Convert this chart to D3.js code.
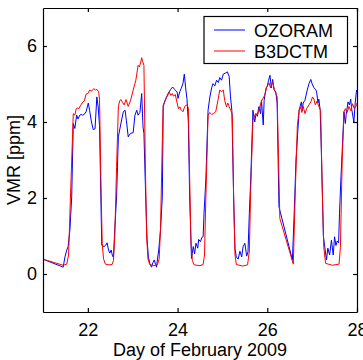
<!DOCTYPE html>
<html>
<head>
<meta charset="utf-8">
<script src="https://cdn.jsdelivr.net/npm/d3@7"></script>
<style>
  body { margin: 0; background: #fff; }
  svg text { font-family: "Liberation Sans", Arial, sans-serif; fill: #000; }
</style>
</head>
<body>
<div id="chart"></div>
<script>
// day of February 2009, VMR in ppm
const ozoram = [
  [21.00, 0.39], [21.45, 0.18], [21.49, 0.45], [21.53, 0.63], [21.56, 0.72], [21.60, 1.16], [21.64, 2.03],
  [21.675, 3.96], [21.71, 3.83], [21.75, 4.18], [21.78, 4.08], [21.82, 4.18], [21.85, 4.2], [21.88, 4.18],
  [21.92, 4.2], [21.96, 4.27], [22.01, 4.5], [22.04, 4.3], [22.08, 4.0], [22.12, 3.8], [22.16, 3.82],
  [22.20, 4.66], [22.23, 4.4], [22.26, 3.9], [22.29, 2.0], [22.31, 0.76], [22.36, 0.72], [22.40, 0.76],
  [22.43, 0.82], [22.46, 0.63], [22.49, 0.55], [22.52, 0.63], [22.55, 0.47], [22.57, 0.44], [22.60, 1.16],
  [22.64, 2.03], [22.68, 3.61], [22.73, 3.92], [22.79, 4.27], [22.83, 4.31], [22.86, 4.03], [22.90, 3.61],
  [22.95, 3.7], [23.01, 3.72], [23.05, 4.18], [23.09, 4.31], [23.12, 4.18], [23.16, 4.25], [23.20, 4.75],
  [23.23, 3.87], [23.25, 3.7], [23.29, 2.0], [23.32, 0.9], [23.35, 0.45], [23.38, 0.28], [23.42, 0.18],
  [23.45, 0.3], [23.48, 0.37], [23.51, 0.25], [23.53, 0.18], [23.55, 0.37], [23.58, 0.63], [23.62, 1.16],
  [23.66, 2.03], [23.68, 4.4], [23.72, 4.57], [23.79, 4.75], [23.84, 4.85], [23.89, 4.92], [23.94, 4.85],
  [23.99, 4.79], [24.01, 4.62], [24.05, 4.8], [24.08, 4.88], [24.12, 5.01], [24.15, 5.26], [24.18, 4.9],
  [24.21, 4.6], [24.24, 4.0], [24.27, 2.0], [24.31, 0.41], [24.35, 0.72], [24.38, 0.53], [24.41, 0.81],
  [24.45, 0.68], [24.47, 0.91], [24.51, 0.85], [24.54, 0.96], [24.57, 0.98], [24.59, 1.6], [24.63, 2.47],
  [24.68, 4.31], [24.72, 4.66], [24.76, 4.9], [24.79, 5.01], [24.83, 4.95], [24.87, 5.1], [24.91, 5.04],
  [24.94, 5.17], [24.98, 5.1], [25.02, 5.26], [25.07, 5.29], [25.11, 5.32], [25.15, 5.2], [25.18, 4.66],
  [25.21, 4.31], [25.25, 2.0], [25.28, 0.67], [25.31, 0.45], [25.35, 0.39], [25.39, 0.6], [25.43, 0.45],
  [25.46, 0.72], [25.50, 0.81], [25.54, 0.47], [25.57, 0.58], [25.60, 1.6], [25.63, 2.47], [25.68, 4.31],
  [25.72, 4.0], [25.75, 4.22], [25.78, 4.15], [25.81, 4.4], [25.85, 4.22], [25.87, 4.57], [25.91, 3.92],
  [25.93, 4.57], [25.97, 4.88], [26.00, 4.95], [26.03, 5.1], [26.06, 5.23], [26.09, 4.9], [26.12, 5.12],
  [26.15, 4.85], [26.19, 4.79], [26.22, 4.5], [26.26, 1.77], [26.56, 0.37], [26.60, 1.6], [26.64, 3.0],
  [26.71, 4.31], [26.73, 4.4], [26.76, 4.53], [26.78, 4.3], [26.80, 4.5], [26.84, 4.57], [26.89, 4.84],
  [26.93, 5.01], [26.97, 5.12], [27.00, 5.0], [27.04, 4.9], [27.08, 4.85], [27.10, 4.79], [27.13, 4.5],
  [27.15, 4.6], [27.18, 4.3], [27.21, 3.0], [27.25, 1.0], [27.32, 0.37], [27.35, 0.68], [27.39, 0.5],
  [27.43, 0.89], [27.47, 0.5], [27.50, 0.98], [27.53, 0.75], [27.56, 0.87], [27.59, 0.82], [27.61, 1.6],
  [27.64, 2.47], [27.71, 4.27], [27.74, 3.96], [27.76, 4.2], [27.80, 4.53], [27.83, 4.45], [27.86, 4.6],
  [27.88, 4.35], [27.93, 4.0], [27.96, 4.5], [27.99, 4.84], [28.00, 4.8]
];

const b3dctm = [
  [21.00, 0.39], [21.45, 0.23], [21.53, 0.26], [21.57, 0.5], [21.62, 2.3], [21.675, 4.22], [21.71, 4.18],
  [21.74, 4.35], [21.77, 4.37], [21.80, 4.35], [21.84, 4.44], [21.89, 4.53], [21.92, 4.55], [21.96, 4.73],
  [22.00, 4.75], [22.04, 4.84], [22.08, 4.81], [22.13, 4.88], [22.17, 4.84], [22.20, 4.86], [22.24, 4.8],
  [22.26, 4.6], [22.29, 2.5], [22.32, 0.8], [22.35, 0.4], [22.39, 0.26], [22.47, 0.24], [22.54, 0.25],
  [22.57, 0.35], [22.60, 1.0], [22.64, 2.8], [22.68, 4.4], [22.71, 4.56], [22.74, 4.59], [22.77, 4.52],
  [22.81, 4.45], [22.85, 4.59], [22.90, 4.41], [22.95, 4.56], [23.01, 4.84], [23.07, 5.1], [23.12, 5.49],
  [23.15, 5.45], [23.18, 5.58], [23.20, 5.69], [23.22, 5.6], [23.25, 5.49], [23.28, 3.0], [23.31, 1.0],
  [23.34, 0.4], [23.38, 0.25], [23.47, 0.22], [23.55, 0.24], [23.59, 0.4], [23.62, 1.2], [23.66, 3.5],
  [23.68, 4.45], [23.72, 4.55], [23.76, 4.66], [23.79, 4.72], [23.81, 4.79], [23.85, 4.7], [23.88, 4.75],
  [23.91, 4.68], [23.95, 4.72], [23.98, 4.55], [24.02, 4.35], [24.05, 4.4], [24.08, 4.32], [24.12, 4.27],
  [24.16, 4.41], [24.20, 4.45], [24.24, 4.38], [24.27, 2.5], [24.30, 0.8], [24.33, 0.35], [24.37, 0.24],
  [24.50, 0.22], [24.57, 0.25], [24.60, 0.5], [24.63, 2.0], [24.68, 4.18], [24.72, 4.25], [24.76, 4.2],
  [24.80, 4.22], [24.85, 4.27], [24.90, 4.57], [24.94, 4.84], [24.98, 4.8], [25.02, 4.84], [25.05, 4.57],
  [25.09, 4.4], [25.12, 4.5], [25.15, 4.4], [25.19, 4.3], [25.22, 4.2], [25.25, 2.0], [25.28, 0.5],
  [25.31, 0.25], [25.45, 0.21], [25.56, 0.24], [25.60, 0.6], [25.63, 2.2], [25.68, 4.05], [25.74, 4.22],
  [25.78, 4.18], [25.83, 4.4], [25.88, 4.57], [25.94, 4.7], [25.99, 4.92], [26.04, 5.03], [26.07, 4.9],
  [26.12, 5.05], [26.16, 4.85], [26.22, 4.66], [26.28, 1.46], [26.58, 0.26], [26.62, 2.0], [26.67, 3.9],
  [26.71, 4.31], [26.74, 4.4], [26.77, 4.25], [26.80, 4.41], [26.84, 4.22], [26.88, 4.36], [26.93, 4.45],
  [26.97, 4.53], [27.01, 4.66], [27.04, 4.6], [27.07, 4.45], [27.11, 4.55], [27.15, 4.41], [27.19, 4.3],
  [27.22, 2.5], [27.26, 0.7], [27.30, 0.28], [27.45, 0.23], [27.60, 0.26], [27.63, 0.7], [27.67, 3.0],
  [27.71, 4.27], [27.74, 4.35], [27.78, 4.25], [27.82, 4.41], [27.86, 4.3], [27.90, 4.48], [27.94, 4.35],
  [27.99, 4.44], [28.00, 4.5]
];

const xTicks = [22, 24, 26, 28];
const yTicks = [0, 2, 4, 6];
const seriesNames = ['OZORAM', 'B3DCTM'];
const seriesColors = ['#0000ff', '#ff0000'];

const width = 363, height = 360;
const margin = { top: 8, right: 6, bottom: 48, left: 43 };

const svg = d3.select('#chart').append('svg')
  .attr('width', width)
  .attr('height', height);

const x = d3.scaleLinear().domain([21, 28]).range([margin.left, width - margin.right]);
const y = d3.scaleLinear().domain([-1, 7]).range([height - margin.bottom, margin.top]);

svg.append('clipPath').attr('id', 'plot-clip')
  .append('rect')
  .attr('x', x(21)).attr('y', y(7))
  .attr('width', x(28) - x(21)).attr('height', y(-1) - y(7));

const line = d3.line().x(d => x(d[0])).y(d => y(d[1]));

const lines = svg.append('g').attr('clip-path', 'url(#plot-clip)');
[ozoram, b3dctm].forEach((data, i) => {
  lines.append('path')
    .datum(data)
    .attr('fill', 'none')
    .attr('stroke', seriesColors[i])
    .attr('stroke-width', 1)
    .attr('d', line);
});

// axes, ticks pointing inwards on all four sides
const fontSize = 18;
const fmt = d3.format('d');
const axisBottomG = svg.append('g')
  .attr('transform', `translate(0,${y(-1)})`)
  .call(d3.axisBottom(x).tickValues(xTicks).tickFormat(fmt).tickSizeInner(-4).tickSizeOuter(0).tickPadding(11));
const axisLeftG = svg.append('g')
  .attr('transform', `translate(${x(21)},0)`)
  .call(d3.axisLeft(y).tickValues(yTicks).tickFormat(fmt).tickSizeInner(-4).tickSizeOuter(0).tickPadding(6));
const axisTopG = svg.append('g')
  .attr('transform', `translate(0,${y(7)})`)
  .call(d3.axisTop(x).tickValues(xTicks).tickSizeInner(-4).tickSizeOuter(0).tickFormat(''));
const axisRightG = svg.append('g')
  .attr('transform', `translate(${x(28)},0)`)
  .call(d3.axisRight(y).tickValues(yTicks).tickSizeInner(-4).tickSizeOuter(0).tickFormat(''));

[axisBottomG, axisLeftG, axisTopG, axisRightG].forEach(g => {
  g.selectAll('path, line').attr('stroke', '#000').attr('stroke-width', 1.2);
  g.selectAll('text')
    .style('font-family', '"Liberation Sans", Arial, sans-serif')
    .style('font-size', fontSize + 'px')
    .attr('fill', '#000');
});

svg.append('text')
  .attr('x', (x(21) + x(28)) / 2)
  .attr('y', 356)
  .attr('text-anchor', 'middle')
  .style('font-size', fontSize + 'px')
  .text('Day of February 2009');

svg.append('text')
  .attr('transform', `translate(20,${(y(-1) + y(7)) / 2}) rotate(-90)`)
  .attr('text-anchor', 'middle')
  .style('font-size', fontSize + 'px')
  .text('VMR [ppm]');

// legend
const legend = svg.append('g');
legend.append('rect')
  .attr('x', 204).attr('y', 16.5)
  .attr('width', 143.5).attr('height', 47)
  .attr('fill', '#fff')
  .attr('stroke', '#000')
  .attr('stroke-width', 1.2);
seriesNames.forEach((name, i) => {
  const ly = 30 + i * 21;
  legend.append('line')
    .attr('x1', 214).attr('x2', 245)
    .attr('y1', ly).attr('y2', ly)
    .attr('stroke', seriesColors[i])
    .attr('stroke-width', 1);
  legend.append('text')
    .attr('x', 254).attr('y', ly + 6.5)
    .style('font-size', fontSize + 'px')
    .text(name);
});
</script>
</body>
</html>
